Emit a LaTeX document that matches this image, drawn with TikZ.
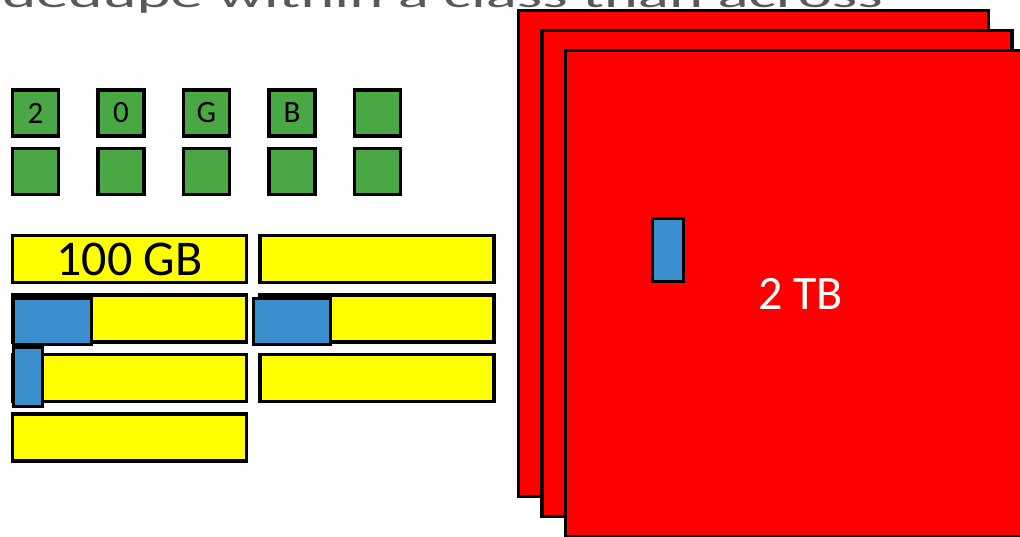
\documentclass[tikz,border=0pt]{standalone}
\usepackage{fontspec}
\setmainfont{Carlito}
\newfontfamily\titlefont[FakeStretch=1.8]{Carlito}
\usetikzlibrary{positioning}
\definecolor{cellGreen}{HTML}{4AA844}
\definecolor{slabYellow}{HTML}{FFFF00}
\definecolor{blockBlue}{HTML}{3B8FCE}
\definecolor{diskRed}{HTML}{FF0000}
\definecolor{titleGray}{HTML}{595959}

\begin{document}
\begin{tikzpicture}[
  x=1pt, y=-1pt,
  node distance=36pt,
  cell/.style={draw=black, line width=3.5pt, fill=cellGreen, inner sep=0pt,
               minimum width=46pt, minimum height=46pt, font=\fontsize{31}{31}\selectfont},
  slab/.style={draw=black, line width=3.5pt, fill=slabYellow, inner sep=0pt,
               minimum width=234pt, minimum height=47pt, font=\fontsize{50}{50}\selectfont},
  chunk/.style={draw=black, line width=3.5pt, fill=blockBlue, inner sep=0pt},
  disk/.style={draw=black, line width=3.5pt, fill=diskRed, inner sep=0pt,
               minimum width=470pt, minimum height=486pt, text=white,
               font=\fontsize{48}{48}\selectfont}
]
\useasboundingbox (0,0) rectangle (1020,536);
\clip (0,0) rectangle (1020,536);

\node[anchor=base east, text=titleGray, inner sep=0pt, font=\titlefont\fontsize{36}{36}\selectfont]
  (title) at (883,7) {dedupe within a class than across};

\node[cell] (g1) at (35.5,113) {2};
\node[cell, right=of g1] (g2) {0};
\node[cell, right=of g2] (g3) {G};
\node[cell, right=of g3] (g4) {B};
\node[cell, right=of g4] (g5) {};
\node[cell, below=9pt of g1] (h1) {};
\node[cell, right=of h1] (h2) {};
\node[cell, right=of h2] (h3) {};
\node[cell, right=of h3] (h4) {};
\node[cell, right=of h4] (h5) {};

\node[slab] (s11) at (129.5,259) {100 GB};
\node[slab, right=10pt of s11] (s12) {};
\node[slab, below=9pt of s11] (s21) {};
\node[slab, right=10pt of s21] (s22) {};
\node[slab, below=9pt of s21] (s31) {};
\node[slab, right=10pt of s31] (s32) {};
\node[slab, below=9pt of s31] (s41) {};

\node[chunk, minimum width=29pt, minimum height=59pt] (c3) at (28,377) {};
\node[chunk, minimum width=78pt, minimum height=46pt] (c1) at (52.5,321.5) {};
\node[chunk, minimum width=77pt, minimum height=46pt] (c2) at (292,321.5) {};

\node[disk] (d1) at (753.5,253.5) {};
\node[disk] (d2) at (777,273.5) {};
\node[disk] (d3) at (800.5,293.5) {2 TB};
\node[chunk, minimum width=31pt, minimum height=63pt] (c4) at (668,250) {};
\end{tikzpicture}
\end{document}
